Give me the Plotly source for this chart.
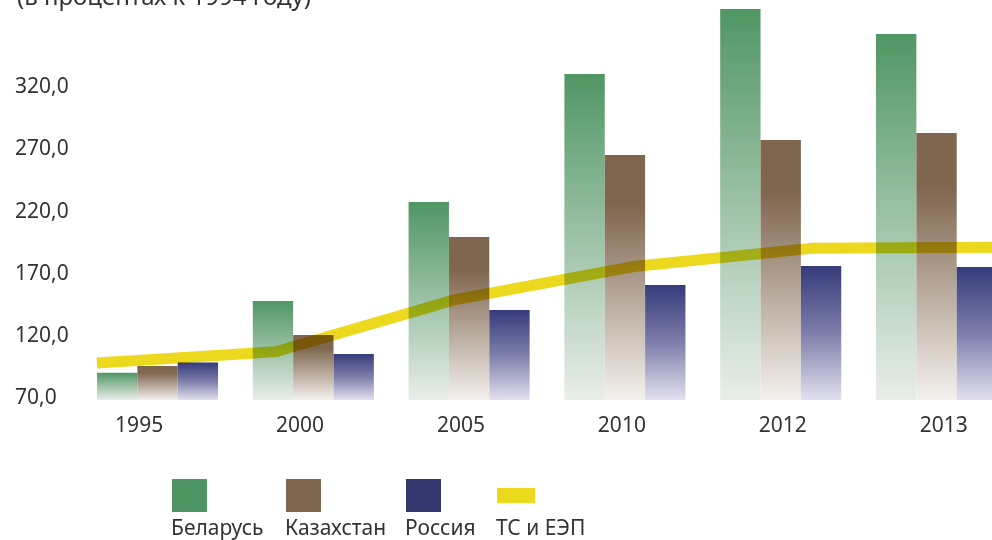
import plotly.graph_objects as go

YEARS = ["1995", "2000", "2005", "2010", "2012", "2013"]
BELARUS = [89.3, 147.0, 226.6, 329.6, 381.9, 361.8]
KAZAKHSTAN = [94.7, 119.6, 198.5, 264.4, 276.5, 282.1]
RUSSIA = [97.4, 104.4, 139.7, 159.9, 175.1, 174.3]
TS_EEP = [97.1, 106.2, 148.0, 174.7, 189.5, 190.3]
SERIES_NAMES = ["Беларусь", "Казахстан", "Россия", "ТС и ЕЭП"]
Y_TICKS = [70, 120, 170, 220, 270, 320]
TITLE = "(в процентах к 1994 году)"

W, H = 992, 540
ML, MB = 11, 140
PLOT_H = H - MB
Y_RANGE = [67.3, 389.2]
FONT = "Noto Sans"
TEXT = "#333333"

GREEN, BROWN, NAVY, YELLOW = "#509664", "#7f664f", "#34366e", "#ecd81c"
SCALES = [
    [[0, "#e9eee9"], [1, GREEN]],
    [[0, "#f4f1ee"], [0.8, BROWN], [1, BROWN]],
    [[0, "#e2e0ef"], [0.5, "#7d7eaa"], [1, "#363b7a"]],
]
GROUP_W = 0.777


def px_x(p):
    return (p - ML) / (W - ML)


def px_y(p):
    return (PLOT_H - p) / PLOT_H


fig = go.Figure()

# gradient bars: one filled polygon per bar, grouped like barmode="group"
bar_w = GROUP_W / 3
for k, (vals, scale) in enumerate(zip([BELARUS, KAZAKHSTAN, RUSSIA], SCALES)):
    off = (k - 1) * bar_w
    for i, v in enumerate(vals):
        x0, x1 = i + off - bar_w / 2, i + off + bar_w / 2
        base = Y_RANGE[0]
        fig.add_trace(
            go.Scatter(
                x=[x0, x1, x1, x0, x0], y=[base, base, v, v, base],
                mode="lines", line=dict(width=0), fill="toself",
                fillgradient=dict(type="vertical", colorscale=scale),
                showlegend=False, hoverinfo="skip",
            )
        )

# year labels sit on their own evenly spaced category scale, as in the source
fig.add_trace(
    go.Scatter(
        x=YEARS, y=[None] * len(YEARS), xaxis="x3", mode="lines",
        showlegend=False, hoverinfo="skip",
    )
)

fig.add_trace(
    go.Scatter(
        x=YEARS, y=TS_EEP, mode="lines", xaxis="x2",
        line=dict(color=YELLOW, width=11),
        name=SERIES_NAMES[3], showlegend=False,
    )
)

x_dom0 = px_x(79.6)
fig.update_layout(
    width=W, height=H,
    margin=dict(l=ML, r=0, t=0, b=MB),
    paper_bgcolor="white", plot_bgcolor="white",
    separators=", ",
    font=dict(family=FONT, color=TEXT, size=21),
    showlegend=False,
    xaxis=dict(
        domain=[x_dom0, 1], range=[-0.5, 5.356],
        showticklabels=False,
        showgrid=False, zeroline=False, showline=False, ticks="",
    ),
    xaxis2=dict(
        domain=[x_dom0, 1], overlaying="x", range=[-0.097, 5.0],
        type="category", visible=False,
    ),
    xaxis3=dict(
        domain=[x_dom0, 1], overlaying="x", anchor="y", range=[-0.37, 5.30],
        type="category",
        showgrid=False, zeroline=False, showline=False, ticks="",
        ticklabelstandoff=10, tickfont=dict(size=21, color=TEXT),
    ),
    yaxis=dict(
        range=Y_RANGE, tickvals=Y_TICKS, tickformat=".1f",
        anchor="free", position=0, ticklabelposition="inside",
        ticklabeloverflow="allow",
        showgrid=False, zeroline=False, showline=False, ticks="",
        tickfont=dict(size=21, color=TEXT),
    ),
)

fig.add_annotation(
    text=TITLE, xref="paper", yref="paper", x=px_x(15), y=px_y(-4),
    xanchor="left", yanchor="middle", showarrow=False,
    font=dict(size=24, color=TEXT),
)

# custom legend: swatch above, label below
legend_items = [
    (SERIES_NAMES[0], GREEN, 172, 207, 479, 512),
    (SERIES_NAMES[1], BROWN, 286, 321, 479, 512),
    (SERIES_NAMES[2], NAVY, 406, 441, 479, 512),
    (SERIES_NAMES[3], YELLOW, 497, 535, 488, 503),
]
for name, color, left, right, top, bottom in legend_items:
    fig.add_shape(
        type="rect", xref="paper", yref="paper",
        x0=px_x(left), x1=px_x(right), y0=px_y(bottom), y1=px_y(top),
        fillcolor=color, line=dict(width=0),
    )
    fig.add_annotation(
        text=name, xref="paper", yref="paper", x=px_x(left - 3), y=px_y(527),
        xanchor="left", yanchor="middle", showarrow=False,
        font=dict(size=21, color=TEXT),
    )

# the yellow line darkens the bars under it (multiply blend)
POST = """
document.body.style.margin = '0';
var gd = document.getElementsByClassName('plotly-graph-div')[0];
function blend() {
  gd.querySelectorAll('.scatterlayer path.js-line').forEach(function (p) {
    if (parseFloat(p.style.strokeWidth) > 5) {
      var clip = p.closest('[clip-path]') || p;
      clip.style.mixBlendMode = 'multiply';
    }
  });
}
blend();
gd.on('plotly_afterplot', blend);
"""

fig.write_html("out.html", post_script=POST, config={"displayModeBar": False})
